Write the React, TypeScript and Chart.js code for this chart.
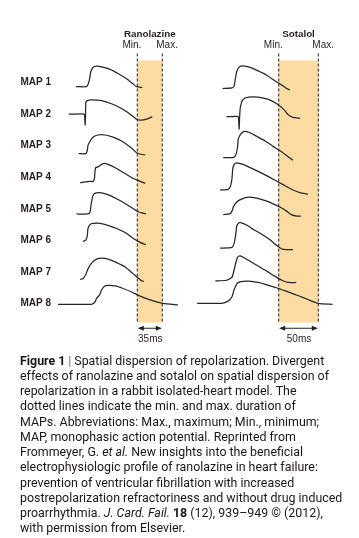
import React, { useEffect, useRef } from 'react';
import { Chart, registerables } from 'chart.js';

Chart.register(...registerables);

// ---- Data (x in ms, y in MAP-row units) ----
const ROWS = [1, 2, 3, 4, 5, 6, 7, 8];
const MAP_LABELS = ['MAP 1', 'MAP 2', 'MAP 3', 'MAP 4', 'MAP 5', 'MAP 6', 'MAP 7', 'MAP 8'];
const PANEL_TITLES = ['Ranolazine', 'Sotalol'];
const RAN_MIN_MAX = [115, 150];
const SOT_MIN_MAX = [165, 215];
const DURATION_LABELS = ['35ms', '50ms'];
const BAND_ROWS = [0.3, 8.6];
const DASH_ROWS = [0.08, 8.63];
const ARROW_ROW = 8.78;
const DURATION_ROW = 9.13;

const RAN_MAP1: number[][] = [[29,1.13],[44,1.13],[46,1.06],[48,0.91],[50,0.65],[53,0.52],[58,0.48],[65,0.5],[77,0.58],[88,0.71],[100,0.88],[109,1.04],[114,1.13],[122,1.16]];
const RAN_MAP2: number[][] = [[19,2.0],[39,1.99],[41,2.02],[42,2.34],[42.5,2.1],[43,1.63],[45,1.57],[51,1.55],[65,1.57],[79,1.67],[93,1.82],[105,2.0],[114,2.16],[120,2.19],[128,2.16],[136,2.08]];
const RAN_MAP3: number[][] = [[33,3.25],[43,3.25],[45,3.15],[46,2.99],[49,2.85],[53,2.73],[60,2.66],[70,2.66],[81,2.73],[93,2.85],[105,3.04],[114,3.22],[120,3.27],[126,3.29]];
const RAN_MAP4: number[][] = [[35,4.17],[49,4.13],[53,4.13],[55,4.03],[56,3.77],[57,3.69],[60,3.67],[65,3.59],[69,3.56],[74,3.59],[86,3.72],[98,3.88],[109,4.03],[119,4.13],[126,4.19]];
const RAN_MAP5: number[][] = [[30,5.16],[46,5.16],[49,5.09],[50,4.92],[52,4.66],[54,4.53],[58,4.49],[65,4.49],[74,4.55],[86,4.68],[98,4.83],[109,4.99],[116,5.09],[127,5.16]];
const RAN_MAP6: number[][] = [[39,6.03],[43,5.99],[45,5.85],[46,5.62],[49,5.49],[53,5.46],[63,5.46],[74,5.52],[86,5.62],[98,5.75],[109,5.93],[119,6.06],[127,6.13]];
const RAN_MAP7: number[][] = [[35,7.23],[39,7.21],[43,7.07],[46,6.9],[51,6.72],[58,6.59],[65,6.56],[74,6.59],[86,6.7],[98,6.84],[109,7.05],[119,7.24],[124,7.31]];
const RAN_MAP8: number[][] = [[4,8.02],[51,8.02],[56,7.94],[58,7.83],[62,7.73],[65,7.57],[69,7.45],[74,7.42],[84,7.44],[95,7.52],[107,7.63],[119,7.76],[133,7.88],[151,7.99],[172,8.04]];

const SOT_MAP1: number[][] = [[94,1.19],[106,1.17],[108.5,1.12],[110,0.91],[112,0.65],[115,0.51],[120,0.47],[129,0.52],[139,0.63],[150,0.77],[160,0.94],[169,1.08],[175,1.19],[179,1.23]];
const SOT_MAP2: number[][] = [[99,2.08],[112,2.07],[114,2.09],[115,2.47],[115.5,2.16],[116.5,1.79],[120,1.53],[127,1.46],[139,1.46],[152,1.53],[162.5,1.67],[171,1.84],[177,2.02],[183,2.1],[192,2.13]];
const SOT_MAP3: number[][] = [[95,3.38],[108,3.37],[111,3.28],[113,3.04],[114,2.78],[117,2.63],[121,2.55],[128,2.58],[137,2.7],[148,2.85],[158,3.02],[169,3.2],[177,3.35],[183,3.46]];
const SOT_MAP4: number[][] = [[91,4.4],[101,4.38],[104,4.29],[106,4.03],[107,3.72],[109,3.58],[112,3.54],[120,3.59],[133,3.74],[146,3.9],[158,4.06],[171,4.24],[183,4.4],[194,4.5],[202,4.53]];
const SOT_MAP5: number[][] = [[95,5.18],[103,5.16],[106,5.07],[108,4.92],[112,4.78],[118,4.69],[127,4.63],[137,4.66],[148,4.74],[158,4.84],[167,4.95],[175,5.07],[181,5.18],[188,5.23],[193,5.23]];
const SOT_MAP6: number[][] = [[91,6.24],[106,6.22],[109,6.06],[111,5.75],[112,5.54],[115,5.44],[118,5.44],[125,5.52],[133,5.65],[143.5,5.8],[154,5.98],[163,6.17],[169,6.27],[175,6.29],[183,6.29]];
const SOT_MAP7: number[][] = [[85,7.28],[99,7.26],[106,7.16],[108.5,6.95],[111,6.69],[113,6.53],[116,6.49],[120,6.53],[129,6.66],[139,6.81],[150,6.97],[160,7.13],[169,7.26],[177,7.33],[187,7.33]];
const SOT_MAP8: number[][] = [[62,7.99],[93,7.99],[101,7.92],[106,7.78],[108.5,7.57],[112,7.38],[116,7.31],[127,7.29],[139,7.33],[152,7.42],[165,7.52],[177,7.63],[190,7.75],[202,7.87],[215,7.99],[233,8.02]];

const RAN_TRACES = [RAN_MAP1, RAN_MAP2, RAN_MAP3, RAN_MAP4, RAN_MAP5, RAN_MAP6, RAN_MAP7, RAN_MAP8];
const SOT_TRACES = [SOT_MAP1, SOT_MAP2, SOT_MAP3, SOT_MAP4, SOT_MAP5, SOT_MAP6, SOT_MAP7, SOT_MAP8];

// ---- Styles ----
const INK = '#231f20';
const TRACE = '#262626';
const BAND = '#fcdca3';

const annotations = {
  id: 'mapAnnotations',
  beforeDatasetsDraw(chart: any) {
    const { ctx, scales } = chart;
    const y = scales.y;
    const panels = [
      { sc: scales.xR, mm: RAN_MIN_MAX },
      { sc: scales.xS, mm: SOT_MIN_MAX },
    ];
    ctx.save();
    ctx.fillStyle = BAND;
    for (const p of panels) {
      const x0 = p.sc.getPixelForValue(p.mm[0]);
      const x1 = p.sc.getPixelForValue(p.mm[1]);
      const yt = y.getPixelForValue(BAND_ROWS[0]);
      const yb = y.getPixelForValue(BAND_ROWS[1]);
      ctx.fillRect(x0, yt, x1 - x0, yb - yt);
    }
    ctx.restore();
  },
  afterDraw(chart: any) {
    const { ctx, scales } = chart;
    const y = scales.y;
    const panels = [
      { sc: scales.xR, mm: RAN_MIN_MAX, title: PANEL_TITLES[0], dur: DURATION_LABELS[0] },
      { sc: scales.xS, mm: SOT_MIN_MAX, title: PANEL_TITLES[1], dur: DURATION_LABELS[1] },
    ];
    ctx.save();
    ctx.fillStyle = INK;
    ctx.strokeStyle = INK;
    ctx.textBaseline = 'middle';
    for (const p of panels) {
      const x0 = p.sc.getPixelForValue(p.mm[0]);
      const x1 = p.sc.getPixelForValue(p.mm[1]);
      const xc = (x0 + x1) / 2;
      ctx.font = 'bold 9.8px "Liberation Sans", Arial, sans-serif';
      ctx.textAlign = 'center';
      ctx.fillText(p.title, xc, 34.5);
      ctx.font = '10px "Liberation Sans", Arial, sans-serif';
      ctx.textAlign = 'right';
      ctx.fillText('Min.', x0 + 4, 45.5);
      ctx.textAlign = 'left';
      ctx.fillText('Max.', x1 - 6, 45.5);
      // double arrow
      const ya = y.getPixelForValue(ARROW_ROW);
      ctx.lineWidth = 1;
      ctx.beginPath();
      ctx.moveTo(x0 + 2, ya);
      ctx.lineTo(x1 - 2, ya);
      ctx.stroke();
      const hl = 6, hw = 2.6;
      ctx.beginPath();
      ctx.moveTo(x0 + 0.5, ya);
      ctx.lineTo(x0 + 0.5 + hl, ya - hw);
      ctx.lineTo(x0 + 0.5 + hl, ya + hw);
      ctx.closePath();
      ctx.fill();
      ctx.beginPath();
      ctx.moveTo(x1 - 0.5, ya);
      ctx.lineTo(x1 - 0.5 - hl, ya - hw);
      ctx.lineTo(x1 - 0.5 - hl, ya + hw);
      ctx.closePath();
      ctx.fill();
      ctx.textAlign = 'center';
      ctx.font = '10px "Liberation Sans", Arial, sans-serif';
      ctx.fillText(p.dur, xc + 0.5, y.getPixelForValue(DURATION_ROW));
    }
    ctx.restore();
  },
};

function traceDataset(points: number[][], xAxisID: string) {
  return {
    data: points.map(([x, v]) => ({ x, y: v })),
    xAxisID,
    yAxisID: 'y',
    showLine: true,
    borderColor: TRACE,
    borderWidth: 1.25,
    pointRadius: 0,
    tension: 0.2,
    fill: false,
  };
}

function dashDataset(xv: number, xAxisID: string) {
  return {
    data: [{ x: xv, y: DASH_ROWS[0] }, { x: xv, y: DASH_ROWS[1] }],
    xAxisID,
    yAxisID: 'y',
    showLine: true,
    borderColor: INK,
    borderWidth: 1,
    borderDash: [3, 2],
    pointRadius: 0,
    fill: false,
  };
}

function MapChart() {
  const ref = useRef<HTMLCanvasElement | null>(null);
  useEffect(() => {
    if (!ref.current) return;
    const datasets: any[] = [
      dashDataset(RAN_MIN_MAX[0], 'xR'),
      dashDataset(RAN_MIN_MAX[1], 'xR'),
      dashDataset(SOT_MIN_MAX[0], 'xS'),
      dashDataset(SOT_MIN_MAX[1], 'xS'),
      ...RAN_TRACES.map((t) => traceDataset(t, 'xR')),
      ...SOT_TRACES.map((t) => traceDataset(t, 'xS')),
    ];
    const chart = new Chart(ref.current, {
      type: 'scatter',
      data: { datasets },
      options: {
        responsive: false,
        animation: false,
        events: [],
        layout: { padding: { left: 0, right: 0, top: 51, bottom: 7 } },
        plugins: { legend: { display: false }, tooltip: { enabled: false }, title: { display: false } },
        scales: {
          xR: { type: 'linear', display: false, min: 1.2, max: 425.4 },
          xS: { type: 'linear', display: false, min: -116.3, max: 266.4 },
          y: {
            type: 'linear',
            reverse: true,
            min: 0,
            max: 9.5,
            grid: { display: false, drawTicks: false },
            border: { display: false },
            afterBuildTicks: (scale: any) => {
              scale.ticks = ROWS.map((v) => ({ value: v }));
            },
            afterFit: (scale: any) => {
              scale.width = 56;
            },
            ticks: {
              padding: 5,
              color: INK,
              font: { family: '"Liberation Sans", Arial, sans-serif', size: 10, weight: 'bold' },
              callback: (_v: any, i: number) => MAP_LABELS[i],
            },
          },
        },
      },
      plugins: [annotations],
    });
    return () => chart.destroy();
  }, []);
  return <canvas ref={ref} width={359} height={362} style={{ width: 359, height: 362, display: 'block' }} />;
}

const captionStyle: React.CSSProperties = {
  position: 'absolute',
  left: 20,
  top: 352.5,
  width: 335,
  fontFamily: 'Roboto, "Liberation Sans", Arial, sans-serif',
  fontSize: 12.4,
  lineHeight: '15.25px',
  color: '#1a1718',
  whiteSpace: 'nowrap',
};

export default function App() {
  return (
    <div style={{ position: 'absolute', left: 0, top: 0, width: 359, height: 538, background: '#fff' }}>
      <div style={{ position: 'absolute', left: 0, top: 0 }}>
        <MapChart />
      </div>
      <div style={captionStyle}>
        <div><b>Figure 1</b> <span style={{ fontWeight: 300 }}>|</span> Spatial dispersion of repolarization. Divergent</div>
        <div>effects of ranolazine and sotalol on spatial dispersion of</div>
        <div>repolarization in a rabbit isolated-heart model. The</div>
        <div>dotted lines indicate the min. and max. duration of</div>
        <div>MAPs. Abbreviations: Max., maximum; Min., minimum;</div>
        <div>MAP, monophasic action potential. Reprinted from</div>
        <div>Frommeyer, G. <i>et al.</i> New insights into the beneficial</div>
        <div>electrophysiologic profile of ranolazine in heart failure:</div>
        <div>prevention of ventricular fibrillation with increased</div>
        <div>postrepolarization refractoriness and without drug induced</div>
        <div>proarrhythmia. <i>J. Card. Fail.</i> <b>18</b> (12), 939–949 © (2012),</div>
        <div>with permission from Elsevier.</div>
      </div>
    </div>
  );
}
